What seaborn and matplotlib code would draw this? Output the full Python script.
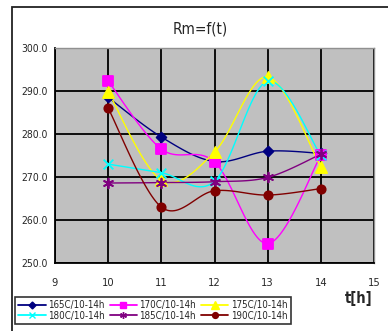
import numpy as np
import pandas as pd
import matplotlib
matplotlib.use("Agg")
import matplotlib.pyplot as plt
from matplotlib.patches import Rectangle
from matplotlib.lines import Line2D
import seaborn as sns

# Measurement times [h]
hours = [10, 11, 12, 13, 14]

# Rm values per temperature series
rm_165 = [288.5, 279.3, 273.6, 276.0, 275.5]
rm_170 = [292.3, 276.5, 273.5, 254.5, 275.0]
rm_175 = [289.8, 269.3, 275.8, 293.3, 272.3]
rm_180 = [273.0, 271.0, 269.0, 292.3, 275.0]
rm_185 = [268.6, 268.7, 268.9, 269.9, 275.3]
rm_190 = [286.0, 263.0, 266.8, 265.8, 267.3]

series_labels = ["165C/10-14h", "170C/10-14h", "175C/10-14h",
                 "180C/10-14h", "185C/10-14h", "190C/10-14h"]
series_values = [rm_165, rm_170, rm_175, rm_180, rm_185, rm_190]

x_ticks = [9, 10, 11, 12, 13, 14, 15]
y_ticks = [250, 260, 270, 280, 290, 300]

colors = ["#000080", "#FF00FF", "#FFFF00", "#00FFFF", "#800080", "#800000"]
markers = ["D", "s", "^", "x", (6, 2, 0), "o"]
msizes = [5, 7, 8, 7, 7, 6]

sns.set_style("white")
plt.rcParams["font.family"] = ["DejaVu Sans"]
plt.rcParams["font.stretch"] = "condensed"


def smooth(xs, ys, n=30):
    """Bezier smoothing through the points (Catmull-Rom style)."""
    xs = np.asarray(xs, float)
    ys = np.asarray(ys, float)
    pts = np.column_stack([xs, ys])
    out = []
    for i in range(len(pts) - 1):
        p0 = pts[i - 1] if i > 0 else pts[i]
        p1 = pts[i]
        p2 = pts[i + 1]
        p3 = pts[i + 2] if i + 2 < len(pts) else pts[i + 1]
        c1 = p1 + (p2 - p0) / 6.0
        c2 = p2 - (p3 - p1) / 6.0
        t = np.linspace(0, 1, n)[:, None]
        seg = ((1 - t) ** 3) * p1 + 3 * ((1 - t) ** 2) * t * c1 + 3 * (1 - t) * t ** 2 * c2 + t ** 3 * p2
        out.append(seg if i == 0 else seg[1:])
    seg = np.vstack(out)
    return seg[:, 0], seg[:, 1]


fig = plt.figure(figsize=(3.88, 3.31), dpi=100)
fig.patch.set_facecolor("white")

# chart frame (runs off the right and bottom edges)
fig.patches.append(Rectangle((12 / 388, -0.05), 1.3, 1.05 - 7 / 331,
                             transform=fig.transFigure, fill=False,
                             edgecolor="#222222", linewidth=1.3, zorder=0))

ax = fig.add_axes([55 / 388, 68 / 331, 319 / 388, 215 / 331])
ax.set_facecolor("#C0C0C0")

for vals, lab, col, mk, ms in zip(series_values, series_labels, colors, markers, msizes):
    sx, sy = smooth(hours, vals)
    sns.lineplot(x=sx, y=sy, ax=ax, color=col, linewidth=1.0, sort=False,
                 estimator=None, zorder=3)
    df = pd.DataFrame({"t": hours, "rm": vals})
    sns.scatterplot(data=df, x="t", y="rm", ax=ax, color=col, marker=mk, s=ms ** 2,
                    edgecolor=col, linewidth=1.3, zorder=4)

ax.set_xlim(9, 15)
ax.set_ylim(250, 300)
ax.set_xticks(x_ticks)
ax.set_yticks(y_ticks)
ax.set_xticklabels([str(v) for v in x_ticks], fontsize=8)
ax.set_yticklabels([f"{v:.1f}" for v in y_ticks], fontsize=7.5)
ax.grid(True, color="black", linewidth=1.3)
ax.set_axisbelow(True)
ax.tick_params(axis="x", length=4, width=1, color="black", pad=11, direction="in")
ax.tick_params(axis="y", length=3, width=1, color="black", pad=2)
for side in ["top", "right"]:
    ax.spines[side].set_color("#909090")
    ax.spines[side].set_linewidth(1.0)
ax.spines["left"].set_color("black")
ax.spines["bottom"].set_color("black")
ax.spines["left"].set_linewidth(1.3)
ax.spines["bottom"].set_linewidth(1.3)
ax.set_xlabel("")
ax.set_ylabel("")

fig.text(200 / 388, 1 - 29 / 331, "Rm=f(t)", ha="center", va="center", fontsize=11)
fig.text(359 / 388, 1 - 299 / 331, "t[h]", ha="center", va="center", fontsize=10.5,
         fontweight="bold")

handles = [Line2D([0], [0], color=c, marker=m, markersize=s * 0.7, linewidth=1.3,
                  markeredgecolor=c)
           for c, m, s in zip(colors, markers, msizes)]
order = [0, 3, 1, 4, 2, 5]
leg = fig.legend([handles[i] for i in order], [series_labels[i] for i in order],
                 ncol=3, loc="upper left", bbox_to_anchor=(15 / 388, 1 - 297 / 331),
                 fontsize=7, frameon=True, fancybox=False, edgecolor="black",
                 handlelength=2.8, handletextpad=0.25, columnspacing=0.5,
                 labelspacing=0.05, borderpad=0.35, borderaxespad=0)
leg.get_frame().set_linewidth(1.2)

fig.savefig("out.png", dpi=100, facecolor="white")
